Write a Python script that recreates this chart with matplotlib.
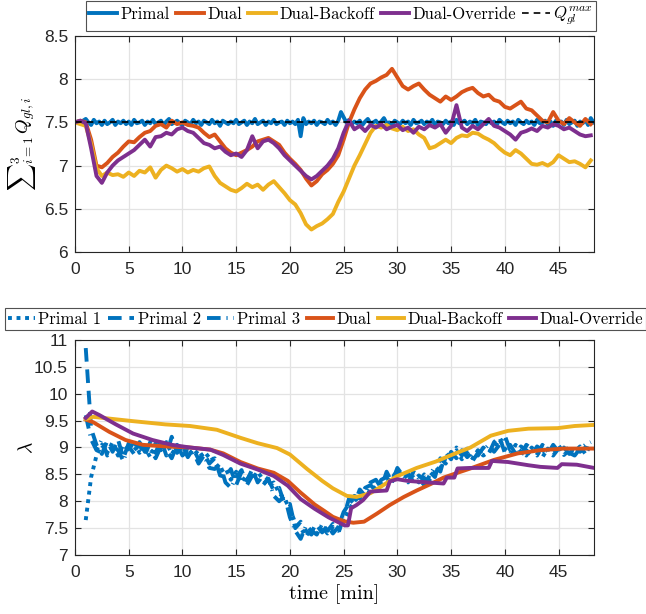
import numpy as np
import matplotlib
matplotlib.use("Agg")
import matplotlib.pyplot as plt

plt.rcParams['mathtext.fontset'] = 'cm'

C_BLUE = '#0072BD'
C_ORANGE = '#D95319'
C_YELLOW = '#EDB120'
C_PURPLE = '#7E2F8E'

# ---------------- top panel data (sum of gas-lift rates) ----------------
q_max = 7.5
primal_q = [7.50,7.51,7.49,7.52,7.54,7.50,7.47,7.53,7.49,7.51,7.47,7.52,7.48,7.50,7.53,7.47,7.51,7.49,7.52,7.48,
            7.51,7.47,7.53,7.49,7.50,7.52,7.47,7.51,7.49,7.53,7.48,7.50,7.52,7.47,7.51,7.54,7.48,7.50,7.52,7.49,
            7.47,7.52,7.50,7.48,7.53,7.49,7.51,7.47,7.52,7.50,7.48,7.53,7.49,7.51,7.46,7.52,7.50,7.48,7.51,7.49,
            7.53,7.48,7.50,7.52,7.47,7.51,7.49,7.54,7.48,7.50,7.52,7.47,7.51,7.49,7.53,7.48,7.50,7.51,7.47,7.52,
            7.49,7.51,7.48,7.53,7.34,7.55,7.48,7.51,7.49,7.52,7.47,7.51,7.50,7.48,7.53,7.49,7.51,7.47,7.52,7.62,
            7.56,7.50,7.53,7.48,7.51,7.49,7.52,7.47,7.51,7.54,7.49,7.50,7.52,7.48,7.51,7.55,7.49,7.50,7.47,7.52,
            7.50,7.48,7.52,7.49,7.51,7.47,7.53,7.49,7.50,7.52,7.48,7.51,7.49,7.53,7.47,7.51,7.50,7.48,7.52,7.49,
            7.51,7.47,7.53,7.49,7.50,7.52,7.48,7.51,7.49,7.53,7.47,7.51,7.50,7.48,7.52,7.49,7.51,7.47,7.53,7.50,
            7.48,7.52,7.49,7.51,7.47,7.53,7.50,7.48,7.52,7.49,7.51,7.47,7.53,7.49,7.50,7.52,7.48,7.51,7.46,7.52,
            7.49,7.51,7.47,7.53,7.48,7.50,7.52,7.46,7.51,7.49,7.53,7.47,7.55,7.50]
dual_q = [7.50,7.52,7.50,7.30,7.00,6.98,7.03,7.10,7.15,7.22,
          7.28,7.27,7.33,7.38,7.40,7.46,7.48,7.44,7.52,7.48,
          7.50,7.47,7.46,7.44,7.38,7.33,7.36,7.28,7.20,7.15,
          7.12,7.15,7.18,7.22,7.28,7.30,7.32,7.28,7.24,7.15,
          7.08,7.02,6.95,6.85,6.77,6.82,6.90,6.95,7.02,7.12,
          7.30,7.50,7.65,7.78,7.88,7.95,7.98,8.02,8.05,8.12,
          8.02,7.92,7.88,7.92,7.95,7.88,7.82,7.78,7.74,7.80,
          7.76,7.80,7.85,7.88,7.90,7.84,7.80,7.82,7.76,7.74,
          7.68,7.66,7.70,7.74,7.66,7.64,7.58,7.52,7.50,7.62,
          7.52,7.48,7.55,7.50,7.46,7.54,7.48]
backoff_q = [7.50,7.48,7.46,7.25,6.97,6.88,6.92,6.89,6.90,6.87,
             6.92,6.88,6.94,6.92,6.98,6.86,6.95,7.00,6.97,6.93,
             6.96,6.92,6.95,6.93,6.97,6.99,6.88,6.80,6.76,6.72,
             6.70,6.74,6.79,6.75,6.78,6.72,6.78,6.82,6.75,6.68,
             6.60,6.55,6.45,6.32,6.26,6.30,6.33,6.38,6.44,6.58,
             6.70,6.85,7.00,7.12,7.25,7.38,7.46,7.44,7.47,7.43,
             7.41,7.45,7.40,7.42,7.36,7.32,7.20,7.22,7.26,7.30,
             7.26,7.32,7.35,7.34,7.38,7.37,7.33,7.30,7.26,7.20,
             7.15,7.12,7.18,7.14,7.08,7.02,7.01,7.03,7.00,7.04,
             7.12,7.08,7.04,7.05,7.02,6.98,7.06]
override_q = [7.50,7.52,7.49,7.20,6.88,6.80,6.92,7.00,7.06,7.10,
              7.14,7.18,7.24,7.30,7.22,7.33,7.34,7.38,7.36,7.42,
              7.44,7.40,7.38,7.32,7.26,7.24,7.20,7.22,7.16,7.12,
              7.14,7.10,7.18,7.34,7.20,7.28,7.30,7.26,7.20,7.12,
              7.06,7.00,6.94,6.88,6.84,6.88,6.94,7.00,7.08,7.20,
              7.38,7.52,7.42,7.46,7.40,7.47,7.44,7.48,7.42,7.45,
              7.47,7.41,7.44,7.38,7.45,7.42,7.47,7.44,7.48,7.38,
              7.46,7.70,7.44,7.40,7.46,7.42,7.48,7.54,7.46,7.44,
              7.40,7.36,7.30,7.38,7.40,7.43,7.40,7.46,7.44,7.48,
              7.46,7.42,7.44,7.40,7.36,7.34,7.35]

# ---------------- bottom panel data (lambda) ----------------
primal1_lam = [7.65,8.45,8.85,9.05,8.90,9.10,8.85,9.05,8.95,9.12,
               8.90,9.00,8.82,9.08,8.95,9.10,8.88,9.02,8.92,8.98,
               8.85,8.95,8.80,8.88,8.72,8.55,8.62,8.40,8.55,8.35,
               8.50,8.42,8.55,8.40,8.30,8.35,8.15,8.05,7.85,7.60,
               7.50,7.35,7.50,7.45,7.52,7.40,7.50,7.45,7.62,7.85,
               8.00,8.12,8.20,8.15,8.28,8.30,8.35,8.50,8.45,8.55,
               8.40,8.45,8.35,8.50,8.40,8.55,8.62,8.80,8.85,8.95,
               8.78,8.90,8.80,8.95,8.85,8.92,9.00,9.15,8.98,8.88,
               9.05,8.92,8.85,9.00,8.90,8.82,8.98,8.90,9.02,8.86,
               8.95,8.92,9.02,8.88,9.05]
primal2_lam = [10.85,9.35,9.05,8.88,9.12,8.92,9.15,8.80,9.08,8.95,
               9.05,8.85,9.10,8.90,9.15,8.85,9.20,8.90,9.02,8.82,
               8.98,8.78,8.90,8.70,8.80,8.48,8.45,8.60,8.30,8.55,
               8.38,8.60,8.35,8.48,8.40,8.20,8.25,7.95,7.95,7.50,
               7.62,7.45,7.38,7.55,7.42,7.55,7.40,7.52,7.80,7.95,
               8.10,8.05,8.25,8.30,8.20,8.40,8.45,8.40,8.58,8.42,
               8.52,8.35,8.48,8.38,8.55,8.45,8.80,8.70,8.92,8.80,
               8.95,8.82,8.92,8.85,9.00,8.88,9.10,9.20,8.90,9.05,
               8.88,9.02,8.95,8.86,9.02,8.95,8.88,9.05,8.92,9.00,
               8.88,9.02,8.92,9.00,8.95]
primal3_lam = [9.60,9.15,8.95,9.15,8.85,9.02,8.95,8.75,9.02,8.88,
               9.10,8.92,8.98,8.80,9.02,8.95,8.80,9.05,8.85,8.95,
               8.92,8.70,8.85,8.62,8.60,8.70,8.35,8.25,8.45,8.58,
               8.30,8.48,8.45,8.30,8.42,8.10,8.00,8.10,7.70,7.45,
               7.30,7.55,7.45,7.38,7.58,7.45,7.58,7.40,7.70,8.05,
               7.95,8.22,8.10,8.35,8.40,8.25,8.55,8.35,8.62,8.48,
               8.35,8.55,8.42,8.30,8.48,8.65,8.55,8.90,8.78,9.00,
               8.85,8.98,8.75,8.90,8.95,9.05,8.92,9.05,9.22,8.95,
               8.92,8.85,9.05,8.98,8.85,9.05,8.92,8.85,8.98,9.05,
               8.90,8.85,8.98,9.05,9.10]

dual_t = [1.0, 1.7, 3.2, 4.7, 6.3, 8.4, 10.7, 12.6, 13.8, 15.4, 17.0, 18.5, 19.8, 21.0,
          22.3, 23.2, 24.0, 25.0, 25.9, 26.9, 28.1, 29.3, 30.6, 31.8, 33.1, 34.3, 35.6,
          36.8, 39.0, 41.2, 43.3, 45.5, 48.3]
dual_lam = [9.52, 9.47, 9.29, 9.14, 9.05, 9.02, 9.00, 8.96, 8.89, 8.73, 8.61, 8.53, 8.38, 8.16,
            7.94, 7.82, 7.71, 7.63, 7.60, 7.62, 7.77, 7.93, 8.08, 8.20, 8.32, 8.44, 8.53,
            8.61, 8.77, 8.89, 8.95, 8.98, 8.98]
backoff_t = [1.0, 1.7, 5.4, 8.4, 10.7, 13.2, 15.4, 17.0, 18.8, 20.0, 21.6, 23.0, 24.0, 25.3,
             26.2, 27.5, 28.7, 29.9, 31.8, 33.6, 34.9, 36.8, 38.7, 40.3, 42.2, 44.9, 46.5, 48.3]
backoff_lam = [9.53, 9.57, 9.49, 9.43, 9.40, 9.33, 9.18, 9.08, 8.99, 8.87, 8.60, 8.38, 8.24, 8.10,
               8.08, 8.15, 8.30, 8.46, 8.62, 8.74, 8.85, 9.00, 9.22, 9.31, 9.35, 9.36, 9.40, 9.42]
override_t = [1.0, 1.6, 2.3, 3.8, 5.4, 7.2, 9.0, 10.7, 12.6, 13.8, 15.4, 17.0, 18.5, 19.8,
              21.0, 22.3, 23.6, 24.5, 25.1, 25.4, 25.7, 26.2, 26.8, 27.5, 28.2, 29.0, 29.3,
              30.0, 30.9, 32.2, 34.3, 34.6, 35.3, 35.6, 36.8, 38.5, 38.8, 40.3, 42.2, 43.3,
              44.9, 45.3, 46.7, 48.3]
override_lam = [9.55, 9.67, 9.60, 9.43, 9.26, 9.14, 9.05, 9.00, 8.96, 8.86, 8.70, 8.59, 8.47, 8.29,
                8.04, 7.86, 7.70, 7.61, 7.55, 7.55, 7.87, 7.93, 8.02, 8.18, 8.19, 8.20, 8.37,
                8.41, 8.38, 8.36, 8.33, 8.44, 8.44, 8.61, 8.62, 8.62, 8.75, 8.73, 8.67, 8.64,
                8.62, 8.69, 8.68, 8.62]

# ---------------- figure ----------------
fig = plt.figure(figsize=(6.46, 6.14), dpi=100)
ax1 = fig.add_axes([75/646, 1-252/614, 519/646, 216/614])
ax2 = fig.add_axes([75/646, 1-555/614, 519/646, 215/614])

LW = 2.8
t_primal_q = np.linspace(0, 48.25, len(primal_q))
t_top = np.linspace(0, 48.0, len(dual_q))
h1, = ax1.plot(t_primal_q, primal_q, color=C_BLUE, lw=LW, label='Primal')
h2, = ax1.plot(t_top, dual_q, color=C_ORANGE, lw=LW, label='Dual')
h3, = ax1.plot(t_top, backoff_q, color=C_YELLOW, lw=LW, label='Dual-Backoff')
h4, = ax1.plot(t_top, override_q, color=C_PURPLE, lw=LW, label='Dual-Override')
h5 = ax1.axhline(q_max, color='black', lw=1.2, ls=(0, (4, 3)), label=r'$Q_{gl}^{max}$')

t_bot = np.linspace(1.0, 48.0, len(primal1_lam))
g1, = ax2.plot(t_bot, primal1_lam, color=C_BLUE, lw=LW, ls=(0, (1, 1.2)), label='Primal 1')
g2, = ax2.plot(t_bot, primal2_lam, color=C_BLUE, lw=LW, ls=(0, (3.5, 2)), label='Primal 2')
g3, = ax2.plot(t_bot, primal3_lam, color=C_BLUE, lw=LW, ls=(0, (3.5, 1.5, 0.3, 1.5)), label='Primal 3')
g4, = ax2.plot(dual_t, dual_lam, color=C_ORANGE, lw=LW, label='Dual')
g5, = ax2.plot(backoff_t, backoff_lam, color=C_YELLOW, lw=LW, label='Dual-Backoff')
g6, = ax2.plot(override_t, override_lam, color=C_PURPLE, lw=LW, label='Dual-Override')

for ax in (ax1, ax2):
    ax.set_xlim(0, 48.3)
    ax.set_xticks(np.arange(0, 46, 5))
    ax.grid(True, color='#e3e3e3', lw=0.9)
    ax.set_axisbelow(True)
    ax.tick_params(direction='in', top=True, right=True, length=4, width=0.8,
                   colors='#262626', labelsize=12.5)
    ax.tick_params(axis='x', pad=7)
    ax.tick_params(axis='y', pad=5)
    for s in ax.spines.values():
        s.set_color('#262626')
        s.set_linewidth(0.8)

ax1.set_ylim(6, 8.5)
ax1.set_yticks([6, 6.5, 7, 7.5, 8, 8.5])
ax1.set_yticklabels(['6', '6.5', '7', '7.5', '8', '8.5'], fontfamily='Liberation Sans')
ax1.set_xticklabels([str(v) for v in range(0, 46, 5)], fontfamily='Liberation Sans')
ax2.set_ylim(7, 11)
ax2.set_yticks([7, 7.5, 8, 8.5, 9, 9.5, 10, 10.5, 11])
ax2.set_yticklabels(['7', '7.5', '8', '8.5', '9', '9.5', '10', '10.5', '11'], fontfamily='Liberation Sans')
ax2.set_xticklabels([str(v) for v in range(0, 46, 5)], fontfamily='Liberation Sans')

ax1.set_ylabel(r'${\sum}_{i=1}^{3}\,Q_{gl,i}$', fontsize=13.5)
ax1.yaxis.set_label_coords(-0.072, 0.5)
ax2.set_ylabel(r'$\lambda$', fontsize=14)
ax2.yaxis.set_label_coords(-0.075, 0.5)
ax2.set_xlabel('time [min]', family='cmr10', fontsize=14.5, labelpad=3)

leg1 = fig.legend(handles=[h1, h2, h3, h4, h5], loc='center', bbox_to_anchor=(341/646, 1-16/614),
                  ncol=5, prop={'family': 'cmr10', 'size': 12}, frameon=True, fancybox=False,
                  edgecolor='#262626', handlelength=1.7, handletextpad=0.2, columnspacing=0.35,
                  borderpad=0.2, borderaxespad=0)
leg1.get_frame().set_linewidth(0.8)
leg2 = fig.legend(handles=[g1, g2, g3, g4, g5, g6], loc='center left', bbox_to_anchor=(5/646, 1-319/614),
                  ncol=6, prop={'family': 'cmr10', 'size': 12}, frameon=True, fancybox=False,
                  edgecolor='#262626', handlelength=1.6, handletextpad=0.2, columnspacing=0.38,
                  borderpad=0.2, borderaxespad=0)
leg2.get_frame().set_linewidth(0.8)

fig.savefig('out.png', dpi=100)
